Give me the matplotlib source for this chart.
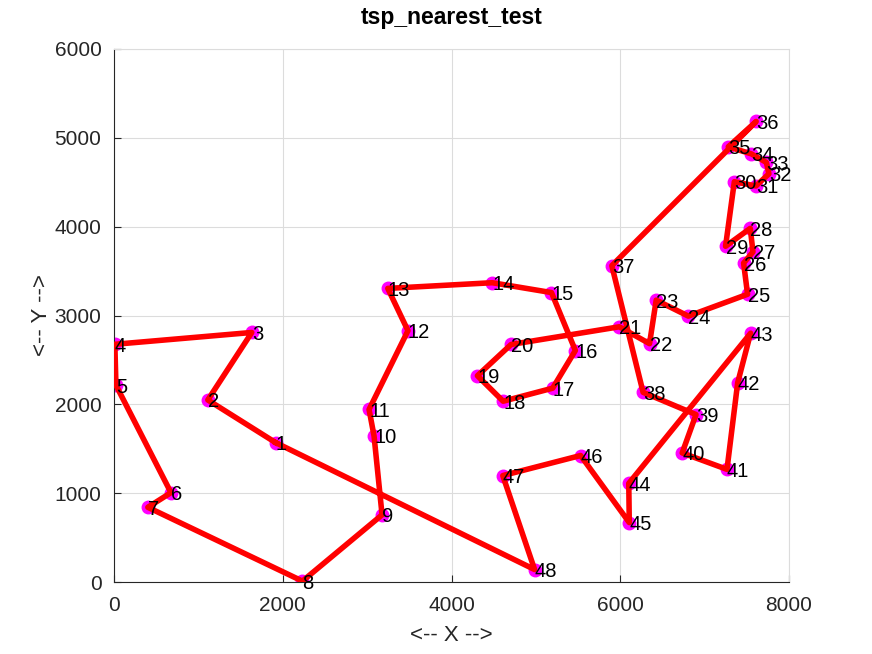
import matplotlib
matplotlib.use("Agg")
import matplotlib.pyplot as plt

plt.rcParams['font.family'] = ['Liberation Sans', 'DejaVu Sans']

# tour order of the nearest neighbour heuristic (att48 cities)
xs = [1916, 1112, 1633, 10, 23, 675, 401, 2233, 3177, 3082,
      3023, 3484, 3245, 4483, 5185, 5468, 5199, 4612, 4307, 4706,
      5989, 6347, 6426, 6807, 7509, 7462, 7573, 7541, 7248, 7352,
      7608, 7762, 7732, 7555, 7280, 7611, 5900, 6271, 6898, 6734,
      7265, 7392, 7545, 6101, 6107, 5530, 4608, 4985]
ys = [1569, 2049, 2809, 2676, 2216, 1006, 841, 10, 756, 1644,
      1942, 2829, 3305, 3369, 3258, 2606, 2182, 2035, 2322, 2674,
      2873, 2683, 3173, 2993, 3239, 3590, 3716, 3981, 3779, 4506,
      4458, 4595, 4723, 4819, 4899, 5184, 3561, 2135, 1885, 1453,
      1268, 2244, 2801, 1110, 669, 1424, 1198, 140]
labels = [str(i + 1) for i in range(len(xs))]

fig = plt.figure(figsize=(8.72, 6.54), dpi=100)
ax = fig.add_axes([114 / 872, 1 - 582 / 654, 675 / 872, 533 / 654])

ax.plot(xs, ys, 'o', color='magenta', markersize=9, zorder=2)
ax.plot(xs + xs[:1], ys + ys[:1], '-', color='red', linewidth=4, zorder=3)
for x, y, s in zip(xs, ys, labels):
    ax.text(x, y, s, fontsize=14.5, ha='left', va='center_baseline', zorder=4)

ax.set_xlim(0, 8000)
ax.set_ylim(0, 6000)
ax.set_xticks([0, 2000, 4000, 6000, 8000])
ax.set_yticks([0, 1000, 2000, 3000, 4000, 5000, 6000])
ax.grid(True, color='#dcdcdc', linewidth=0.8)
ax.set_axisbelow(True)
ax.tick_params(direction='in', labelsize=15, colors='#262626', length=5, top=False, right=False)
ax.tick_params(axis='x', pad=10)
ax.tick_params(axis='y', pad=9)
ax.spines['left'].set_color('#262626')
ax.spines['bottom'].set_color('#262626')
ax.spines['top'].set_color('#dcdcdc')
ax.spines['right'].set_color('#dcdcdc')
ax.set_xlabel('<-- X -->', fontsize=16, color='#262626', labelpad=7)
ax.set_ylabel('<-- Y -->', fontsize=16, color='#262626', labelpad=2)
ax.set_title('tsp_nearest_test', fontsize=16.5, fontweight='bold', pad=18)

fig.savefig('out.png', dpi=100)
